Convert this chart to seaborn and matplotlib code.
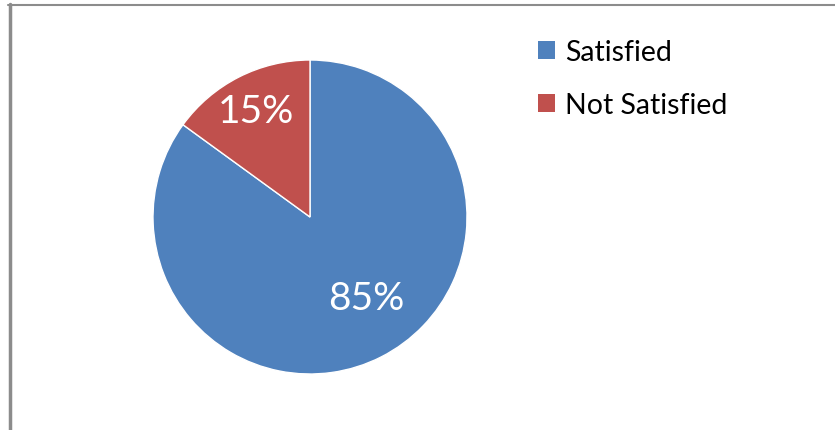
import matplotlib
matplotlib.use("Agg")
import matplotlib.pyplot as plt
import seaborn as sns
import numpy as np
from matplotlib.lines import Line2D

categories = ["Satisfied", "Not Satisfied"]
values = [85, 15]
colors = ["#4F81BD", "#C0504D"]

sns.set_style("white")
plt.rcParams['font.family'] = ['Lato', 'DejaVu Sans']

W, H = 835, 431
fig = plt.figure(figsize=(W / 100, H / 100), dpi=100)
fig.patch.set_facecolor("white")

cx, cy, r = 310, 218, 157
ax = fig.add_axes([(cx - r) / W, (H - cy - r) / H, 2 * r / W, 2 * r / H])
wedges, texts, autotexts = ax.pie(
    values, colors=colors, startangle=90, counterclock=False,
    autopct="%1.0f%%", pctdistance=0.7,
    wedgeprops=dict(edgecolor="white", linewidth=1),
    textprops=dict(color="white", fontsize=28),
)
dists = [0.63, 0.76]
angle_off = [8, 0]
for w, t, d, ao in zip(wedges, autotexts, dists, angle_off):
    ang = np.deg2rad((w.theta1 + w.theta2) / 2 + ao)
    t.set_position((d * np.cos(ang), d * np.sin(ang)))
ax.set_xlim(-1, 1)
ax.set_ylim(-1, 1)
ax.set_aspect("equal")
ax.axis("off")

handles = [plt.Rectangle((0, 0), 1, 1, facecolor=c, edgecolor="none") for c in colors]
fig.legend(handles, categories, loc="upper left", bbox_to_anchor=(527 / W, 1 - 29 / H),
           frameon=False, handlelength=0.6, handleheight=0.6,
           handletextpad=0.35, labelspacing=0.95, borderaxespad=0,
           prop=dict(size=20.5), labelcolor="black")

fig.add_artist(Line2D([9.5 / W, 9.5 / W], [0, 1 - 5 / H], transform=fig.transFigure,
                      color="#8c8c8c", linewidth=2.5))
fig.add_artist(Line2D([8 / W, 1], [1 - 5.5 / H, 1 - 5.5 / H], transform=fig.transFigure,
                      color="#8c8c8c", linewidth=1.5))

fig.savefig("out.png", dpi=100, facecolor="white")
